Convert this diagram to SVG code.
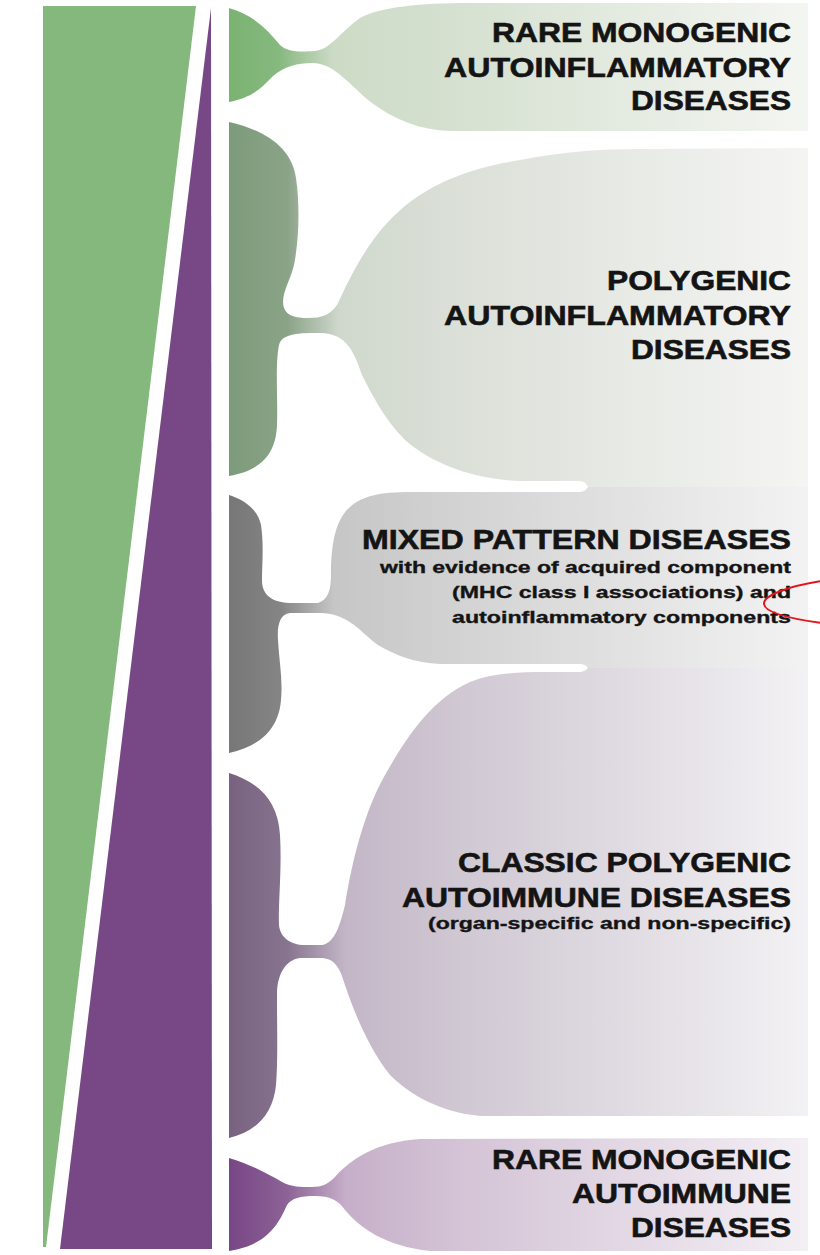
<svg xmlns="http://www.w3.org/2000/svg" width="820" height="1255" viewBox="0 0 820 1255">
<style>
.t{font-family:"Liberation Sans",Arial,sans-serif;font-weight:bold;fill:#141414;stroke:#141414;text-anchor:end}
.h{font-size:28px;stroke-width:0.6px}
.s{font-size:17px;stroke-width:0.35px}
</style>
<defs>
<linearGradient id="g1" gradientUnits="userSpaceOnUse" x1="229" y1="0" x2="812" y2="0">
<stop offset="0" stop-color="#7bb372"/><stop offset="0.085" stop-color="#86b87f"/><stop offset="0.18" stop-color="#cddbc6"/><stop offset="0.4" stop-color="#d6e1d1"/><stop offset="1" stop-color="#f4f6f2"/>
</linearGradient>
<linearGradient id="g2" gradientUnits="userSpaceOnUse" x1="229" y1="0" x2="812" y2="0">
<stop offset="0" stop-color="#7d9b7a"/><stop offset="0.1" stop-color="#8aa387"/><stop offset="0.19" stop-color="#d0d8cd"/><stop offset="0.4" stop-color="#dbe0d8"/><stop offset="1" stop-color="#f5f5f4"/>
</linearGradient>
<linearGradient id="g3" gradientUnits="userSpaceOnUse" x1="229" y1="0" x2="812" y2="0">
<stop offset="0" stop-color="#777777"/><stop offset="0.09" stop-color="#858585"/><stop offset="0.18" stop-color="#c6c6c6"/><stop offset="0.4" stop-color="#d3d3d3"/><stop offset="1" stop-color="#f3f3f3"/>
</linearGradient>
<linearGradient id="g4" gradientUnits="userSpaceOnUse" x1="229" y1="0" x2="812" y2="0">
<stop offset="0" stop-color="#786281"/><stop offset="0.1" stop-color="#87748e"/><stop offset="0.2" stop-color="#c3b7c7"/><stop offset="0.4" stop-color="#d0c8d3"/><stop offset="1" stop-color="#f3f2f4"/>
</linearGradient>
<linearGradient id="g5" gradientUnits="userSpaceOnUse" x1="229" y1="0" x2="812" y2="0">
<stop offset="0" stop-color="#784685"/><stop offset="0.1" stop-color="#8c6396"/><stop offset="0.2" stop-color="#c6afc9"/><stop offset="0.4" stop-color="#d4c4d6"/><stop offset="1" stop-color="#f4eff5"/>
</linearGradient>
</defs>
<rect width="820" height="1255" fill="#ffffff"/>
<g id="gradient-bars">
<polygon points="43,6 196,6 46,1247 43,1247" fill="#84b87c"/>
<polygon points="211,8 212,1249 60,1249" fill="#784785"/>
</g>
<g id="node-rare-autoinflammatory">
<path fill="url(#g1)" d="M229,8 C252,14 268,30 280,45 C288,52 298,52 315,51 C330,50 340,32 360,18 C380,7 420,3 470,3 L808,3 L808,131 L450,131 C420,130 395,120 372,103 C350,86 335,63 312,63 C298,63 284,66 272,77 C260,90 250,98 229,102 Z"/>
<text class="t h" x="791" y="42" textLength="299" lengthAdjust="spacingAndGlyphs">RARE MONOGENIC</text>
<text class="t h" x="791" y="77" textLength="347" lengthAdjust="spacingAndGlyphs">AUTOINFLAMMATORY</text>
<text class="t h" x="791" y="110" textLength="160" lengthAdjust="spacingAndGlyphs">DISEASES</text>
</g>
<g id="node-polygenic-autoinflammatory">
<path fill="url(#g2)" d="M229,122 C265,130 292,148 296,178 C300,205 299,240 294,265 C290,282 280,295 284,308 C287,316 296,318 308,318 C322,318 330,315 337,305 C348,282 362,250 388,222 C418,190 458,170 520,160 C560,152 600,149 640,149 L808,148 L808,487 L588,487 C586,483 584,481 578,481 L520,481 C470,479 430,462 405,440 C385,420 372,395 362,375 C355,355 348,333 320,333 C300,333 282,333 279,345 C275,365 278,400 277,425 C276,450 265,470 229,476 Z"/>
<text class="t h" x="791" y="290" textLength="184" lengthAdjust="spacingAndGlyphs">POLYGENIC</text>
<text class="t h" x="791" y="325" textLength="347" lengthAdjust="spacingAndGlyphs">AUTOINFLAMMATORY</text>
<text class="t h" x="791" y="359" textLength="160" lengthAdjust="spacingAndGlyphs">DISEASES</text>
</g>
<g id="node-mixed-pattern">
<path fill="url(#g3)" d="M229,495 C245,500 258,510 261,525 C264,545 262,565 262,580 C262,592 268,602 290,603 L318,603 C328,600 331,590 331,575 C331,545 335,520 350,507 C362,496 380,492 410,492 L578,492 C584,492 586,490 588,487 L808,487 L808,668 L588,668 C586,665 584,664 578,664 L440,664 C415,663 395,655 378,645 C362,634 350,614 322,613 L290,613 C280,614 277,625 278,640 C279,660 283,680 281,700 C279,725 265,745 229,753 Z"/>
<text class="t h" x="791" y="549" textLength="429" lengthAdjust="spacingAndGlyphs">MIXED PATTERN DISEASES</text>
<text class="t s" x="791" y="573" textLength="411" lengthAdjust="spacingAndGlyphs">with evidence of acquired component</text>
<text class="t s" x="791" y="598" textLength="339" lengthAdjust="spacingAndGlyphs">(MHC class I associations) and</text>
<text class="t s" x="791" y="623" textLength="339" lengthAdjust="spacingAndGlyphs">autoinflammatory components</text>
</g>
<g id="node-classic-autoimmune">
<path fill="url(#g4)" d="M229,773 C258,782 278,800 280,835 C282,870 278,905 279,925 C280,937 290,945 305,945 L322,945 C335,943 340,925 345,905 C352,860 365,810 385,775 C405,740 430,700 470,682 C490,674 515,672 545,672 L578,672 C584,672 586,670 588,668 L808,668 L808,1116 L480,1116 C440,1112 410,1095 390,1075 C370,1050 355,1015 345,985 C340,968 335,958 320,958 L300,958 C285,960 277,975 277,995 C277,1030 278,1060 276,1085 C273,1115 255,1132 229,1138 Z"/>
<text class="t h" x="791" y="872" textLength="333" lengthAdjust="spacingAndGlyphs">CLASSIC POLYGENIC</text>
<text class="t h" x="791" y="907" textLength="389" lengthAdjust="spacingAndGlyphs">AUTOIMMUNE DISEASES</text>
<text class="t s" x="791" y="929" textLength="363" lengthAdjust="spacingAndGlyphs">(organ-specific and non-specific)</text>
</g>
<g id="node-rare-autoimmune">
<path fill="url(#g5)" d="M229,1158 C250,1164 268,1174 282,1182 C292,1187 300,1187 312,1187 C322,1187 328,1184 335,1177 C350,1160 375,1142 420,1139 L808,1138 L808,1251 L430,1251 C385,1246 360,1228 345,1210 C338,1200 330,1196 315,1196 C300,1196 292,1198 287,1205 C280,1220 270,1245 229,1251 Z"/>
<text class="t h" x="791" y="1169" textLength="299" lengthAdjust="spacingAndGlyphs">RARE MONOGENIC</text>
<text class="t h" x="791" y="1203" textLength="219" lengthAdjust="spacingAndGlyphs">AUTOIMMUNE</text>
<text class="t h" x="791" y="1237" textLength="160" lengthAdjust="spacingAndGlyphs">DISEASES</text>
</g>
<g id="connectors">
<path d="M822,581 C790,586 763,595 764,604 C765,613 792,619 822,623" fill="none" stroke="#e3141b" stroke-width="2"/>
</g>
</svg>
